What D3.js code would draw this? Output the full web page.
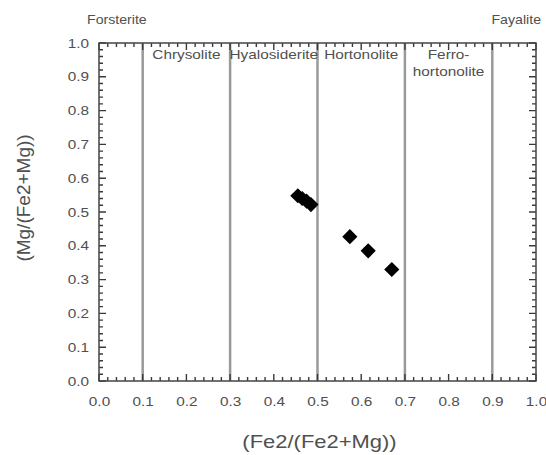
<!DOCTYPE html>
<html>
<head>
<meta charset="utf-8">
<script src="https://cdn.jsdelivr.net/npm/d3@7"></script>
</head>
<body style="margin:0">
<script>
// olivine composition data
var xValues = [0.455, 0.465, 0.475, 0.485, 0.574, 0.616, 0.670];
var yValues = [0.548, 0.540, 0.532, 0.522, 0.427, 0.385, 0.330];

// field boundaries and names
var boundaries = [0.1, 0.3, 0.5, 0.7, 0.9];
var fieldNames = [["Chrysolite"], ["Hyalosiderite"], ["Hortonolite"], ["Ferro-", "hortonolite"]];
var fieldCenters = [0.2, 0.4, 0.6, 0.8];
var majorTicks = d3.range(0, 11).map(d => d / 10);
var minorTicks = d3.range(0, 51).map(d => d / 50);

var margin = { top: 43, right: 10, bottom: 74, left: 99 },
    width = 546 - margin.left - margin.right,
    height = 455 - margin.top - margin.bottom;

var stretch = 1.18; // the source picture's text is a bit wide
var font = "'Liberation Sans', Arial, sans-serif";
var textColor = "#505050";

let svg = d3.select("body").append("svg")
    .attr("width", 546)
    .attr("height", 455)
    .style("background", "#fff");

let g = svg.append("g")
    .attr("transform", "translate(" + margin.left + "," + margin.top + ")");

let xScale = d3.scaleLinear().domain([0, 1]).range([0, width]);
let yScale = d3.scaleLinear().domain([0, 1]).range([height, 0]);

// field boundary lines
g.selectAll(".boundary")
    .data(boundaries)
    .enter().append("line")
    .attr("x1", d => xScale(d))
    .attr("x2", d => xScale(d))
    .attr("y1", 0)
    .attr("y2", height)
    .attr("stroke", "#999")
    .attr("stroke-width", 2.5);

// inward ticks on all four sides as one path
var tickPath = d3.path();
minorTicks.forEach(function (v) {
    var len = Math.abs(v * 10 - Math.round(v * 10)) < 1e-6 ? 7 : 4;
    tickPath.moveTo(xScale(v), height); tickPath.lineTo(xScale(v), height - len);
    tickPath.moveTo(xScale(v), 0); tickPath.lineTo(xScale(v), len);
    tickPath.moveTo(0, yScale(v)); tickPath.lineTo(len, yScale(v));
    tickPath.moveTo(width, yScale(v)); tickPath.lineTo(width - len, yScale(v));
});
g.append("path")
    .attr("d", tickPath.toString())
    .attr("fill", "none")
    .attr("stroke", "#3a3a3a")
    .attr("stroke-width", 1.4);

// tick labels from d3 axes
var fmt = d3.format(".1f");
g.append("g").attr("transform", "translate(0," + height + ")")
    .call(d3.axisBottom(xScale).tickValues(majorTicks).tickSize(0).tickPadding(16).tickFormat(fmt))
    .call(a => a.select(".domain").remove())
    .call(a => a.selectAll(".tick text")
        .style("font-size", "13px")
        .style("font-family", font)
        .attr("fill", textColor)
        .attr("transform", "scale(" + stretch + ",1)"));
g.append("g")
    .call(d3.axisLeft(yScale).tickValues(majorTicks).tickSize(0).tickFormat(fmt))
    .call(a => a.select(".domain").remove())
    .call(a => a.selectAll(".tick text")
        .style("font-size", "13px")
        .style("font-family", font)
        .attr("fill", textColor)
        .attr("x", 0)
        .attr("transform", "translate(-10,0) scale(" + stretch + ",1)"));

// frame
g.append("rect")
    .attr("width", width)
    .attr("height", height)
    .attr("fill", "none")
    .attr("stroke", "#444")
    .attr("stroke-width", 1.5);

// field names
fieldNames.forEach(function (lines, i) {
    let t = g.append("text")
        .attr("text-anchor", "middle")
        .attr("transform", "translate(" + xScale(fieldCenters[i]) + ",0) scale(" + stretch + ",1)")
        .attr("fill", textColor)
        .style("font-family", font)
        .style("font-size", "13px");
    lines.forEach(function (s, j) {
        t.append("tspan")
            .attr("x", 0)
            .attr("y", 16 + j * 17)
            .text(s);
    });
});

// end members
svg.append("text")
    .attr("transform", "translate(87,24) scale(" + stretch + ",1)")
    .attr("fill", textColor).style("font-family", font)
    .style("font-size", "12px").text("Forsterite");
svg.append("text")
    .attr("transform", "translate(541,24) scale(" + stretch + ",1)")
    .attr("text-anchor", "end")
    .attr("fill", textColor).style("font-family", font)
    .style("font-size", "12px").text("Fayalite");

// axis titles
svg.append("text")
    .attr("transform", "translate(" + (margin.left + width / 2 + 2) + ",448) scale(1.22,1)")
    .attr("text-anchor", "middle")
    .attr("fill", textColor).style("font-family", font)
    .style("font-size", "18px")
    .text("(Fe2/(Fe2+Mg))");
svg.append("text")
    .attr("transform", "translate(30,198) rotate(-90)")
    .attr("text-anchor", "middle")
    .attr("fill", textColor).style("font-family", font)
    .style("font-size", "19px")
    .text("(Mg/(Fe2+Mg))");

// data points as diamonds
let symbol = d3.symbol().type(d3.symbolSquare).size(115);
g.selectAll(".pt")
    .data(xValues)
    .enter().append("path")
    .attr("class", "pt")
    .attr("d", symbol)
    .attr("transform", (d, i) => "translate(" + xScale(d) + "," + yScale(yValues[i]) + ") rotate(45)")
    .attr("fill", "#000");
</script>
</body>
</html>
